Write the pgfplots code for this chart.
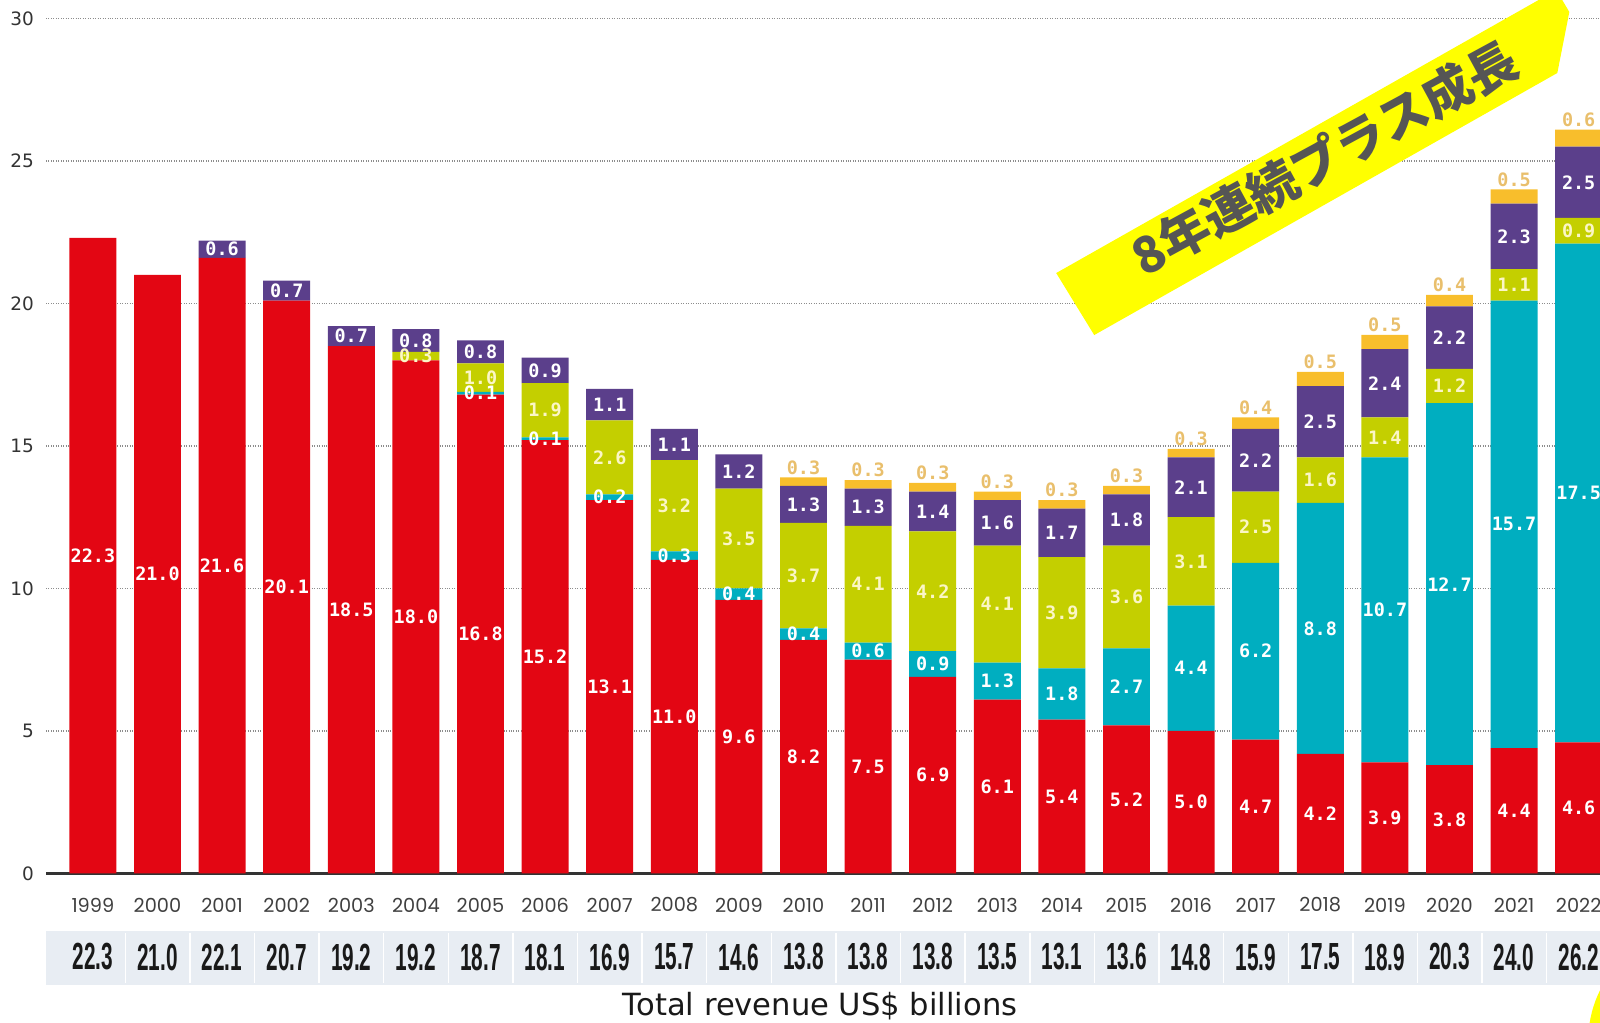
\documentclass[border=0pt]{standalone}
\usepackage{fontspec}
\usepackage{graphicx}
\usepackage{pgfplots}
\usepackage{pgfplotstable}
\pgfplotsset{compat=1.18}
\setmainfont{DejaVu Sans}
\newfontfamily\labfont{DejaVu Sans Mono}
\newfontfamily\yearfont{Poppins}
\newfontfamily\totfont{Liberation Sans}
\newfontfamily\cjk{Noto Sans CJK JP}

\definecolor{cred}{HTML}{E30613}
\definecolor{cteal}{HTML}{00AEC0}
\definecolor{cgreen}{HTML}{C4CF00}
\definecolor{cpurple}{HTML}{5B3F8B}
\definecolor{corange}{HTML}{F8BE2C}
\definecolor{corangetext}{HTML}{E9BF6C}
\definecolor{cgreentext}{HTML}{FBF6C6}
\definecolor{band}{HTML}{E8EDF3}
\definecolor{banner}{HTML}{FFFF00}
\definecolor{bannertext}{HTML}{555555}

\pgfplotstableread{
idx year phys stream down perf sync total
0 1999 22.3 0 0 0 0 22.3
1 2000 21.0 0 0 0 0 21.0
2 2001 21.6 0 0 0.6 0 22.1
3 2002 20.1 0 0 0.7 0 20.7
4 2003 18.5 0 0 0.7 0 19.2
5 2004 18.0 0 0.3 0.8 0 19.2
6 2005 16.8 0.1 1.0 0.8 0 18.7
7 2006 15.2 0.1 1.9 0.9 0 18.1
8 2007 13.1 0.2 2.6 1.1 0 16.9
9 2008 11.0 0.3 3.2 1.1 0 15.7
10 2009 9.6 0.4 3.5 1.2 0 14.6
11 2010 8.2 0.4 3.7 1.3 0.3 13.8
12 2011 7.5 0.6 4.1 1.3 0.3 13.8
13 2012 6.9 0.9 4.2 1.4 0.3 13.8
14 2013 6.1 1.3 4.1 1.6 0.3 13.5
15 2014 5.4 1.8 3.9 1.7 0.3 13.1
16 2015 5.2 2.7 3.6 1.8 0.3 13.6
17 2016 5.0 4.4 3.1 2.1 0.3 14.8
18 2017 4.7 6.2 2.5 2.2 0.4 15.9
19 2018 4.2 8.8 1.6 2.5 0.5 17.5
20 2019 3.9 10.7 1.4 2.4 0.5 18.9
21 2020 3.8 12.7 1.2 2.2 0.4 20.3
22 2021 4.4 15.7 1.1 2.3 0.5 24.0
23 2022 4.6 17.5 0.9 2.5 0.6 26.2
}\data

\pgfplotsset{
  geom/.style={
    at={(0.92cm,2.99cm)}, anchor=south west, scale only axis,
    width=31.08cm, height=17.102cm,
    xmin=-0.726, xmax=23.33, ymin=0, ymax=30,
  }
}

\begin{document}
\begin{tikzpicture}
\path[use as bounding box] (0,0) rectangle (32cm,20.46cm);
\clip (0,0) rectangle (32cm,20.46cm);
\begin{scope}[x=0.02cm,y=-0.02cm,shift={(0cm,20.46cm)}]
  \fill[band] (46,931) rectangle (1600,985);
  \foreach \i in {0,...,22}
    \draw[white,line width=0.8pt] ({92.9+64.6*(\i+0.5)},933) -- ({92.9+64.6*(\i+0.5)},983);
\end{scope}

\begin{axis}[geom,
  ybar stacked, bar width=0.727,
  axis line style={draw=none},
  major tick length=0pt,
  xtick=\empty,
  ytick={5,10,...,30},
  ymajorgrids,
  major grid style={densely dotted, black!45, line width=0.7pt},
  extra y ticks={0},
  extra y tick style={grid=major, major grid style={solid, black!80, line width=1.3pt}},
  /pgf/number format/assume math mode=true,
  yticklabel style={font=\fontsize{10.5}{12}\selectfont, text=black!80, xshift=-0.12cm},
]
\addplot[fill=cred, draw=none] table[x=idx, y=phys]{\data};
\addplot[fill=cteal, draw=none] table[x=idx, y=stream]{\data};
\addplot[fill=cgreen, draw=none] table[x=idx, y=down]{\data};
\addplot[fill=cpurple, draw=none] table[x=idx, y=perf]{\data};
\addplot[fill=corange, draw=none] table[x=idx, y=sync]{\data};
\end{axis}

\begin{axis}[geom, hide axis, clip=false,
  nodes near coords, point meta=explicit symbolic,
  every node near coord/.style={anchor=center, inner sep=0pt,
    font=\labfont\bfseries\fontsize{10.5}{12}\selectfont, text=white},
]
\addplot[draw=none] table[x=idx, y expr={\thisrow{phys}/2}, meta=phys]{\data};
\addplot[draw=none, restrict y to domain=0:100]
  table[x=idx, y expr={\thisrow{stream}>0 ? \thisrow{phys}+\thisrow{stream}/2 : -10}, meta=stream]{\data};
\addplot[draw=none, restrict y to domain=0:100,
  every node near coord/.append style={text=cgreentext}]
  table[x=idx, y expr={\thisrow{down}>0 ? \thisrow{phys}+\thisrow{stream}+\thisrow{down}/2 : -10}, meta=down]{\data};
\addplot[draw=none, restrict y to domain=0:100]
  table[x=idx, y expr={\thisrow{perf}>0 ? \thisrow{phys}+\thisrow{stream}+\thisrow{down}+\thisrow{perf}/2 : -10}, meta=perf]{\data};
\addplot[draw=none, restrict y to domain=0:100,
  every node near coord/.append style={text=corangetext, anchor=south, yshift=1.5pt}]
  table[x=idx, y expr={\thisrow{sync}>0 ? \thisrow{phys}+\thisrow{stream}+\thisrow{down}+\thisrow{perf}+\thisrow{sync} : -10}, meta=sync]{\data};
% year labels
\addplot[draw=none,
  every node near coord/.append style={text=black!75, font=\yearfont\fontsize{11}{12}\selectfont}]
  table[x=idx, y expr=-1.105, meta=year]{\data};
% totals
\addplot[draw=none,
  nodes near coords={\scalebox{0.55}[1]{\pgfplotspointmeta}},
  every node near coord/.append style={text=black!90, font=\totfont\bfseries\fontsize{21.5}{23}\selectfont}]
  table[x=idx, y expr=-2.93, meta=total]{\data};
\end{axis}

\begin{scope}[x=0.02cm,y=-0.02cm,shift={(0cm,20.46cm)}]
  \node[font=\fontsize{17.4}{20}\selectfont, text=black!90] at (820,1006) {Total revenue US\$ billions};
  \fill[banner] (1056,273) -- (1094,335) -- (1557,73) -- (1569,12) -- (1556,-10) -- cycle;
  \node[rotate=28.5, text=bannertext, font=\cjk\bfseries\fontsize{28.5}{32}\selectfont] at (1324,158) {8年連続プラス成長};
  \fill[banner] (1700,1040) circle[radius=112];
\end{scope}
\end{tikzpicture}
\end{document}
